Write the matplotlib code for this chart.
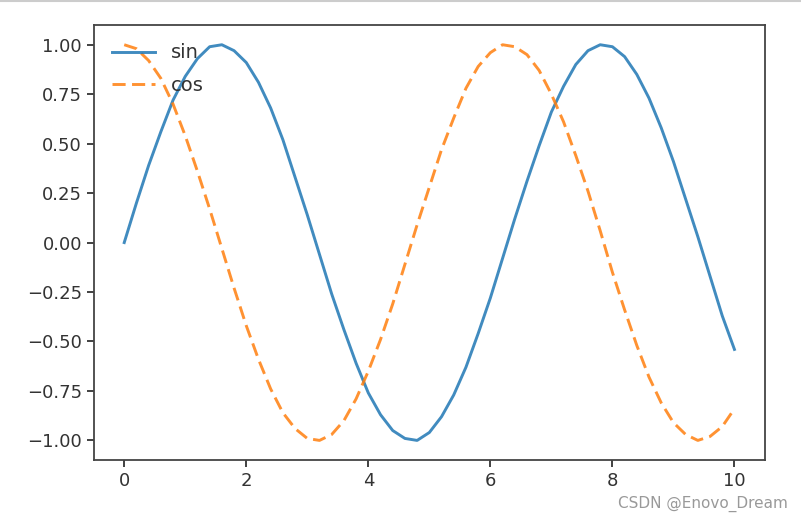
import matplotlib.pyplot as plt
from matplotlib.lines import Line2D

# valores (passo 0.2)
x = [i / 5 for i in range(51)]
sin_y = [0.00, 0.20, 0.39, 0.56, 0.72, 0.84, 0.93, 0.99, 1.00, 0.97,
         0.91, 0.81, 0.68, 0.52, 0.33, 0.14, -0.06, -0.26, -0.44, -0.61,
         -0.76, -0.87, -0.95, -0.99, -1.00, -0.96, -0.88, -0.77, -0.63, -0.46,
         -0.28, -0.08, 0.12, 0.31, 0.49, 0.66, 0.79, 0.90, 0.97, 1.00,
         0.99, 0.94, 0.85, 0.73, 0.58, 0.41, 0.22, 0.03, -0.17, -0.37, -0.54]
cos_y = [1.00, 0.98, 0.92, 0.83, 0.70, 0.54, 0.36, 0.17, -0.03, -0.23,
         -0.42, -0.59, -0.74, -0.86, -0.94, -0.99, -1.00, -0.97, -0.90, -0.79,
         -0.65, -0.49, -0.31, -0.11, 0.09, 0.28, 0.47, 0.63, 0.78, 0.89,
         0.96, 1.00, 0.99, 0.95, 0.87, 0.75, 0.61, 0.44, 0.26, 0.06,
         -0.15, -0.34, -0.52, -0.68, -0.81, -0.91, -0.97, -1.00, -0.98, -0.93, -0.84]

plt.rcParams['font.size'] = 13
fig = plt.figure(figsize=(8.01, 5.20), dpi=100)
ax = fig.add_axes([0.117, 0.115, 0.838, 0.837])

ax.plot(x, sin_y, '-', color='#1f77b4', lw=2.1, alpha=0.85, label='sin')
ax.plot(x, cos_y, '--', color='#ff7f0e', lw=2.1, alpha=0.85, dashes=(4.5, 2.2), label='cos')

ax.set_yticks([-1.00, -0.75, -0.50, -0.25, 0.00, 0.25, 0.50, 0.75, 1.00])
ax.set_yticklabels(['−1.00', '−0.75', '−0.50', '−0.25', '0.00', '0.25', '0.50', '0.75', '1.00'])
ax.set_xticks([0, 2, 4, 6, 8, 10])
for s in ax.spines.values():
    s.set_color('#444444')
    s.set_linewidth(1.3)
ax.tick_params(colors='#333333', length=5, width=1.3)

leg = ax.legend(loc='upper left', frameon=False, fontsize=14, handlelength=2.2,
                borderaxespad=0.55, labelspacing=0.7)
for t in leg.get_texts():
    t.set_color('#333333')

fig.add_artist(Line2D([0, 1], [0.999, 0.999], color='#cccccc', lw=1.5))
fig.text(0.983, 0.015, 'CSDN @Enovo_Dream', ha='right', va='bottom',
         color='#999999', fontsize=11)

fig.savefig('out.png', dpi=100)
